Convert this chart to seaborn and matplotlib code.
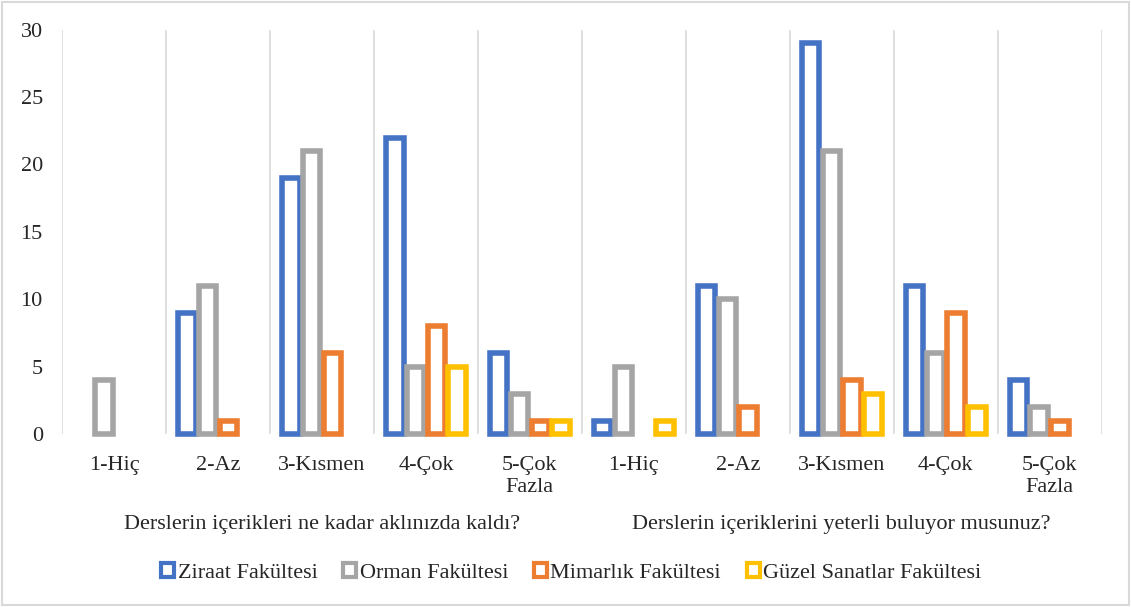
import matplotlib
matplotlib.use("Agg")
import pandas as pd
import matplotlib.pyplot as plt
import seaborn as sns
from matplotlib.patches import Patch

# --- data ---
questions = ["Derslerin içerikleri ne kadar aklınızda kaldı?",
             "Derslerin içeriklerini yeterli buluyor musunuz?"]
answers = ["1-Hiç", "2-Az", "3-Kısmen", "4-Çok", "5-Çok\nFazla"]
faculties = ["Ziraat Fakültesi", "Orman Fakültesi",
             "Mimarlık Fakültesi", "Güzel Sanatlar Fakültesi"]

ziraat = [0, 9, 19, 22, 6, 1, 11, 29, 11, 4]
orman = [4, 11, 21, 5, 3, 5, 10, 21, 6, 2]
mimarlik = [0, 1, 6, 8, 1, 0, 2, 4, 9, 1]
guzel = [0, 0, 0, 5, 1, 1, 0, 3, 2, 0]

colors = ["#4472C4", "#A5A5A5", "#ED7D31", "#FFC000"]


def build_frame():
    rows = []
    series = [ziraat, orman, mimarlik, guzel]
    for f, vals in zip(faculties, series):
        for i, v in enumerate(vals):
            q = questions[i // len(answers)]
            a = answers[i % len(answers)]
            rows.append({"kategori": f"{i}|{a}", "cevap": a, "soru": q,
                         "fakulte": f, "sayi": v})
    return pd.DataFrame(rows)


def main():
    sns.set_style("white")
    plt.rcParams["font.family"] = ["Liberation Serif", "DejaVu Serif"]

    df = build_frame()
    order = list(dict.fromkeys(df["kategori"]))

    fig = plt.figure(figsize=(11.31, 6.07), dpi=100)
    ax = fig.add_axes([0.055, 0.285, 0.919, 0.666])

    sns.barplot(data=df, x="kategori", y="sayi", hue="fakulte", order=order,
                hue_order=faculties, palette=colors, fill=False, width=0.8,
                gap=0.16, errorbar=None, legend=False, ax=ax)

    # Excel does not draw zero bars; thick hollow outlines
    for p in ax.patches:
        p.set_clip_on(False)
        p.set_joinstyle("miter")
        p.set_linewidth(4.0)
        if p.get_height() == 0:
            p.set_visible(False)

    n = len(order)
    ax.set_xlim(-0.5, n - 0.5)
    ax.set_ylim(0, 30)
    ax.set_yticks(range(0, 31, 5))
    for b in range(n + 1):
        ax.axvline(b - 0.5, color="#D9D9D9", lw=1.2, zorder=0)
    for s in ax.spines.values():
        s.set_visible(False)

    ax.set_xticks(range(n))
    ax.set_xticklabels([c.split("|")[1] for c in order])
    ax.tick_params(axis="x", length=0, pad=16, labelsize=16)
    ax.tick_params(axis="y", length=0, pad=14, labelsize=16)
    ax.set_xlabel("")
    ax.set_ylabel("")

    # question labels under each group
    k = len(answers)
    for qi, q in enumerate(questions):
        ax.text((qi * k + (qi + 1) * k - 1) / 2, -6.7, q, ha="center",
                va="center", fontsize=16, transform=ax.transData)

    handles = [Patch(facecolor="white", edgecolor=c, linewidth=3) for c in colors]
    fig.legend(handles, faculties, loc="center", bbox_to_anchor=(0.505, 0.056),
               ncol=4, frameon=False, fontsize=16, handlelength=0.6,
               handleheight=0.6, handletextpad=0.15, columnspacing=1.15)

    fig.patches.append(plt.Rectangle((0.002, 0.003), 0.996, 0.994,
                                     transform=fig.transFigure, fill=False,
                                     edgecolor="#D9D9D9", lw=1.5))

    fig.savefig("out.png", dpi=100)
    plt.close(fig)


if __name__ == "__main__":
    main()
